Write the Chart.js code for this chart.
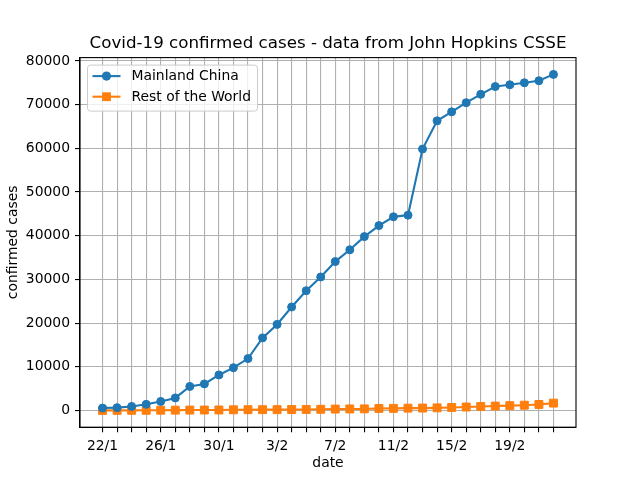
<!DOCTYPE html>
<html>
<head>
<meta charset="utf-8">
<script src="https://cdn.jsdelivr.net/npm/chart.js@4"></script>
<style>
  html, body { margin: 0; padding: 0; background: #fff; }
  #wrap { width: 640px; height: 480px; }
</style>
</head>
<body>
<div id="wrap"><canvas id="chart" width="640" height="480"></canvas></div>
<script>
const dates = ['22/1','23/1','24/1','25/1','26/1','27/1','28/1','29/1','30/1','31/1',
  '1/2','2/2','3/2','4/2','5/2','6/2','7/2','8/2','9/2','10/2','11/2','12/2','13/2',
  '14/2','15/2','16/2','17/2','18/2','19/2','20/2','21/2','22/2'];
const chinaCases = [547, 639, 916, 1399, 2062, 2863, 5494, 6070, 8124, 9783,
  11871, 16607, 19693, 23680, 27409, 30553, 34075, 36778, 39790, 42306, 44327, 44699, 59832,
  66292, 68347, 70446, 72364, 74139, 74546, 74999, 75472, 76922];
const restCases = [8, 15, 25, 35, 56, 64, 84, 96, 110, 144,
  167, 180, 188, 212, 227, 265, 317, 343, 361, 457, 476, 523, 538,
  595, 685, 780, 896, 999, 1095, 1200, 1371, 1677];
const yTicks = [0, 10000, 20000, 30000, 40000, 50000, 60000, 70000, 80000];
const titleText = 'Covid-19 confirmed cases - data from John Hopkins CSSE';

const FONT = 'DejaVu Sans';
const blue = '#1f77b4', orange = '#ff7f0e';

const toPoints = arr => arr.map((v, i) => ({ x: i, y: v }));

// matplotlib style 5% margins
const n = dates.length;
const xPad = (n - 1) * 0.05;
const allVals = chinaCases.concat(restCases);
const yMinD = Math.min(...allVals), yMaxD = Math.max(...allVals);
const yPad = (yMaxD - yMinD) * 0.05;

// box around plot area, title over the axes, legend inside it
const framePlugin = {
  id: 'frame',
  afterDraw(chart) {
    const { ctx, chartArea: a } = chart;
    ctx.save();
    ctx.strokeStyle = '#000';
    ctx.lineWidth = 1.1;
    ctx.strokeRect(a.left, a.top, a.right - a.left, a.bottom - a.top);

    ctx.fillStyle = '#000';
    ctx.font = '16.7px "' + FONT + '"';
    ctx.textAlign = 'center';
    ctx.textBaseline = 'middle';
    ctx.fillText(titleText, (a.left + a.right) / 2, 44);

    // legend
    const bx = a.left + 7.5, by = a.top + 7.5, bw = 170, bh = 46;
    ctx.fillStyle = 'rgba(255,255,255,0.8)';
    ctx.strokeStyle = '#cccccc';
    ctx.lineWidth = 1;
    ctx.beginPath();
    ctx.roundRect(bx, by, bw, bh, 3);
    ctx.fill();
    ctx.stroke();

    const items = [
      { label: 'Mainland China', color: blue, shape: 'circle' },
      { label: 'Rest of the World', color: orange, shape: 'square' }
    ];
    ctx.font = '13.9px "' + FONT + '"';
    ctx.textAlign = 'left';
    items.forEach((it, i) => {
      const cy = by + 11 + i * 20.6;
      ctx.strokeStyle = it.color;
      ctx.lineWidth = 2.1;
      ctx.beginPath();
      ctx.moveTo(bx + 5, cy);
      ctx.lineTo(bx + 33, cy);
      ctx.stroke();
      ctx.fillStyle = it.color;
      if (it.shape === 'circle') {
        ctx.beginPath();
        ctx.arc(bx + 19, cy, 4.6, 0, Math.PI * 2);
        ctx.fill();
      } else {
        ctx.fillRect(bx + 19 - 4.4, cy - 4.4, 8.8, 8.8);
      }
      ctx.fillStyle = '#000';
      ctx.fillText(it.label, bx + 44, cy + 0.5);
    });
    ctx.restore();
  }
};

new Chart(document.getElementById('chart'), {
  type: 'line',
  data: {
    datasets: [
      {
        label: 'Mainland China',
        data: toPoints(chinaCases),
        borderColor: blue,
        backgroundColor: blue,
        borderWidth: 2.1,
        pointStyle: 'circle',
        pointRadius: 4,
        pointBorderWidth: 1,
        tension: 0
      },
      {
        label: 'Rest of the World',
        data: toPoints(restCases),
        borderColor: orange,
        backgroundColor: orange,
        borderWidth: 2.1,
        pointStyle: 'rect',
        pointRadius: 5.6,
        pointBorderWidth: 1,
        tension: 0
      }
    ]
  },
  options: {
    responsive: false,
    animation: false,
    devicePixelRatio: 1,
    layout: { padding: { left: 0, right: 64, top: 57.6, bottom: 0 } },
    plugins: {
      legend: { display: false },
      tooltip: { enabled: false },
      title: { display: false }
    },
    scales: {
      x: {
        type: 'linear',
        min: -xPad,
        max: n - 1 + xPad,
        afterBuildTicks: axis => { axis.ticks = dates.map((_, i) => ({ value: i })); },
        afterFit: scale => { scale.height = 52.8; },
        ticks: {
          autoSkip: false,
          maxRotation: 0,
          padding: 6,
          color: '#000',
          font: { family: FONT, size: 13.9 },
          callback: v => (v % 4 === 0 ? dates[v] : '')
        },
        grid: { color: '#b0b0b0', lineWidth: 1.1, tickLength: 5, tickColor: '#000', tickWidth: 1.1 },
        border: { color: '#000', width: 1.1 },
        title: {
          display: true,
          text: 'date',
          color: '#000',
          font: { family: FONT, size: 13.9 },
          padding: { top: 0, bottom: 8 }
        }
      },
      y: {
        min: yMinD - yPad,
        max: yMaxD + yPad,
        afterBuildTicks: axis => { axis.ticks = yTicks.map(v => ({ value: v })); },
        afterFit: scale => { scale.width = 80; },
        ticks: {
          padding: 5,
          color: '#000',
          font: { family: FONT, size: 13.9 },
          callback: v => String(v)
        },
        grid: { color: '#b0b0b0', lineWidth: 1.1, tickLength: 5, tickColor: '#000', tickWidth: 1.1 },
        border: { color: '#000', width: 1.1 },
        title: {
          display: true,
          text: 'confirmed cases',
          color: '#000',
          font: { family: FONT, size: 13.9 },
          padding: { top: 5, bottom: 0 }
        }
      }
    }
  },
  plugins: [framePlugin]
});
</script>
</body>
</html>
